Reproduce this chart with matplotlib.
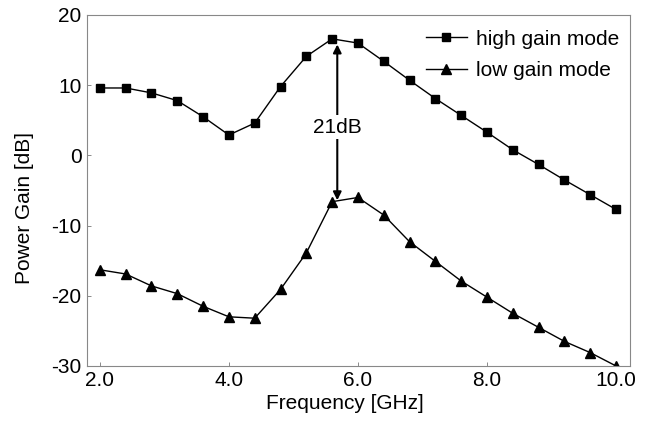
import numpy as np
import matplotlib.pyplot as plt

plt.rcParams['font.family'] = ['Liberation Sans', 'DejaVu Sans']
plt.rcParams['axes.unicode_minus'] = False

# frequency points (GHz)
freq = [2.0, 2.4, 2.8, 3.2, 3.6, 4.0, 4.4, 4.8, 5.2, 5.6, 6.0,
        6.4, 6.8, 7.2, 7.6, 8.0, 8.4, 8.8, 9.2, 9.6, 10.0]
high_gain = [9.6, 9.6, 8.9, 7.8, 5.5, 2.9, 4.6, 9.8, 14.1, 16.6, 16.0,
             13.4, 10.7, 8.1, 5.7, 3.3, 0.8, -1.3, -3.5, -5.6, -7.7]
low_gain = [-16.3, -16.9, -18.6, -19.7, -21.5, -23.0, -23.2, -19.1, -13.9, -6.6, -6.0,
            -8.5, -12.3, -15.1, -17.9, -20.2, -22.5, -24.5, -26.5, -28.1, -30.0]

x_ticks = [2.0, 4.0, 6.0, 8.0, 10.0]
y_ticks = [-30, -20, -10, 0, 10, 20]

fig = plt.figure(figsize=(6.49, 4.28), dpi=100)
ax = fig.add_axes([0.134, 0.145, 0.837, 0.82])

ax.plot(freq, high_gain, color="k", lw=1.0, marker="s", ms=6, label="high gain mode")
ax.plot(freq, low_gain, color="k", lw=1.0, marker="^", ms=7.5, label="low gain mode")

# 21 dB difference marker
ax.annotate("", xy=(5.68, -6.4), xytext=(5.68, 15.8),
            arrowprops=dict(arrowstyle="<|-|>", color="k", lw=1.5,
                            mutation_scale=12, shrinkA=0, shrinkB=0))
ax.text(5.68, 4.0, "21dB", ha="center", va="center", fontsize=15,
        bbox=dict(facecolor="white", edgecolor="none", pad=2))

ax.set_xlim(1.8, 10.22)
ax.set_ylim(-30, 20)
ax.set_xticks(x_ticks)
ax.set_xticklabels([f"{v:.1f}" for v in x_ticks])
ax.set_yticks(y_ticks)
ax.tick_params(direction="in", length=3, width=0.6, color="#777777",
               labelsize=15, pad=4)
for s in ax.spines.values():
    s.set_color("#888888")
    s.set_linewidth(0.8)

ax.set_xlabel("Frequency [GHz]", fontsize=15)
ax.set_ylabel("Power Gain [dB]", fontsize=15)
ax.xaxis.set_label_coords(0.475, -0.08)
ax.yaxis.set_label_coords(-0.098, 0.45)

ax.legend(loc="upper right", bbox_to_anchor=(1.008, 1.003), frameon=False,
          fontsize=15, handlelength=2.0, handletextpad=0.4, labelspacing=0.6,
          borderaxespad=0.35)

fig.savefig("out.png", dpi=100)
